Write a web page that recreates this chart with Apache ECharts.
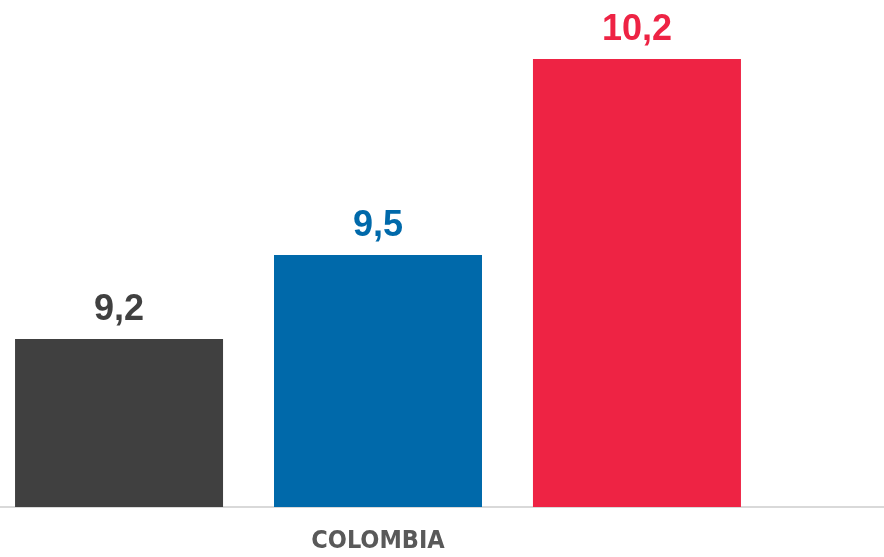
<!DOCTYPE html>
<html>
<head>
<meta charset="utf-8">
<script src="https://cdn.jsdelivr.net/npm/echarts@6/dist/echarts.min.js"></script>
<style>html,body{margin:0;padding:0;background:#fff}#c{width:884px;height:557px}</style>
</head>
<body>
<div id="c"></div>
<script>
const categories = ['COLOMBIA'];
const seriesNames = ['Serie 1', 'Serie 2', 'Serie 3'];
const seriesValues = [[9.2], [9.5], [10.2]];
const seriesColors = ['#404040', '#0069AA', '#EE2344'];

const chart = echarts.init(document.getElementById('c'));
const fmt = p => p.value.toFixed(1).replace('.', ',');
chart.setOption({
  animation: false,
  grid: [
    { left: 0, width: 756, top: 3, bottom: 50 },
    { left: 0, right: 0, top: 3, bottom: 50 }
  ],
  xAxis: [
    {
      type: 'category', gridIndex: 0, data: categories,
      axisLine: { show: false }, axisTick: { show: false },
      axisLabel: { margin: 22, color: '#595959', fontSize: 25, fontWeight: 'bold',
        fontFamily: '"Liberation Sans Narrow", "Noto Sans Condensed", "DejaVu Sans Condensed", sans-serif' }
    },
    {
      type: 'category', gridIndex: 1, data: [''],
      axisLine: { show: true, lineStyle: { color: '#d9d9d9', width: 2 } },
      axisTick: { show: false }, axisLabel: { show: false }
    }
  ],
  yAxis: [
    { type: 'value', gridIndex: 0, min: 8.6, max: 10.4, show: false, splitLine: { show: false } },
    { type: 'value', gridIndex: 1, min: 8.6, max: 10.4, show: false, splitLine: { show: false } }
  ],
  series: seriesNames.map((n, i) => ({
    name: n, type: 'bar', xAxisIndex: 0, yAxisIndex: 0,
    data: seriesValues[i], barWidth: 208, barGap: '24.5%',
    itemStyle: { color: seriesColors[i] },
    label: {
      show: true, position: 'top', distance: 11, formatter: fmt,
      color: seriesColors[i], fontSize: 36, fontWeight: 'bold', fontFamily: 'Liberation Sans'
    }
  }))
});
</script>
</body>
</html>
